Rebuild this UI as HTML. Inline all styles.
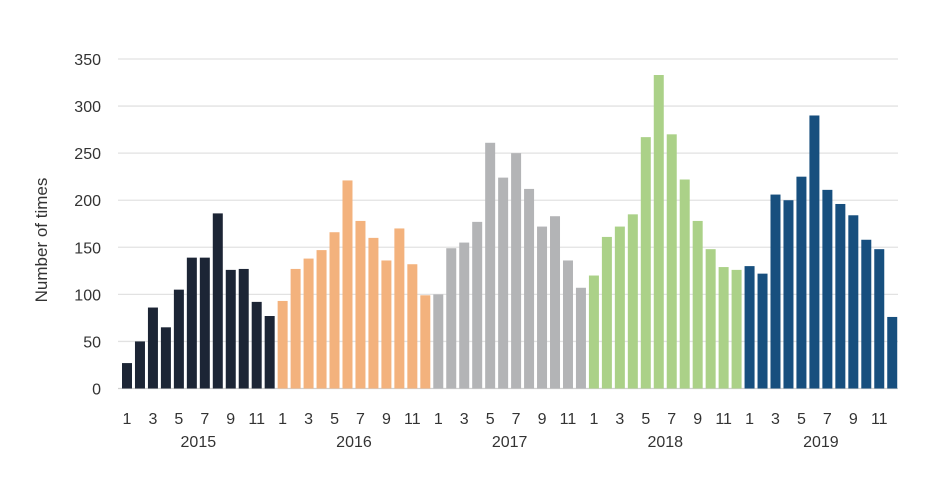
<!DOCTYPE html>
<html><head><meta charset="utf-8"><style>
body{margin:0;background:#fff;}
svg text{font-family:"Liberation Sans","DejaVu Sans",sans-serif;fill:#333;}
</style></head><body>
<svg id="chart" width="934" height="473" xmlns="http://www.w3.org/2000/svg">
<g id="grid"></g>
<g id="bars"></g>
<g id="xlabels"></g>
<g id="ylabels"></g>
<text x="0" y="0" transform="translate(47,240) rotate(-90)" text-anchor="middle" font-size="17">Number of times</text>
</svg>
<script>
const years = ["2015","2016","2017","2018","2019"];
const yearColors = ["#1c2535","#f3b27d","#b3b4b6","#abd188","#174f7e"];
const v2015 = [27,50,86,65,105,139,139,186,126,127,92,77];
const v2016 = [93,127,138,147,166,221,178,160,136,170,132,99];
const v2017 = [100,149,155,177,261,224,250,212,172,183,136,107];
const v2018 = [120,161,172,185,267,333,270,222,178,148,129,126];
const v2019 = [130,122,206,200,225,290,211,196,184,158,148,76];
const yTicks = [0,50,100,150,200,250,300,350];
const monthLabels = ["1","3","5","7","9","11"];

const series=[v2015,v2016,v2017,v2018,v2019];
const NS="http://www.w3.org/2000/svg";
const y0=388.5, yTop=59, yMax=350;
const yScale=v=>y0-(v/yMax)*(y0-yTop);
const x0=122, pitch=12.97, bw=10;
const xScale=i=>x0+i*pitch;
function mk(t,attrs){const e=document.createElementNS(NS,t);for(const k in attrs)e.setAttribute(k,attrs[k]);return e;}
const grid=document.getElementById('grid'),bars=document.getElementById('bars'),xl=document.getElementById('xlabels'),yl=document.getElementById('ylabels');
yTicks.forEach(t=>{
  const l=mk('line',{x1:118,x2:898,y1:yScale(t),y2:yScale(t),stroke:t===0?'#d0d0d0':'#e2e2e2','stroke-width':1.3});
  
  
  grid.appendChild(l);
  const tx=mk('text',{x:101,y:yScale(t)+6,'text-anchor':'end','font-size':16});
  tx.textContent=t;
  
  
  yl.appendChild(tx);
});
series.forEach((s,yi)=>{
  s.forEach((v,m)=>{
    const i=yi*12+m;
    const r=mk('rect',{x:xScale(i),y:yScale(v),width:bw,height:y0-yScale(v),fill:yearColors[yi]});
    
    
    bars.appendChild(r);
  });
  monthLabels.forEach(ml=>{
    const i=yi*12+(+ml-1);
    const tx=mk('text',{x:xScale(i)+bw/2,y:424,'text-anchor':'middle','font-size':16});
    tx.textContent=ml;
    
    
    xl.appendChild(tx);
  });
  const ty=mk('text',{x:(xScale(yi*12)+xScale(yi*12+11)+bw)/2,y:447,'text-anchor':'middle','font-size':16});
  ty.textContent=years[yi];
  
  
  xl.appendChild(ty);
});
</script>
</body></html>
